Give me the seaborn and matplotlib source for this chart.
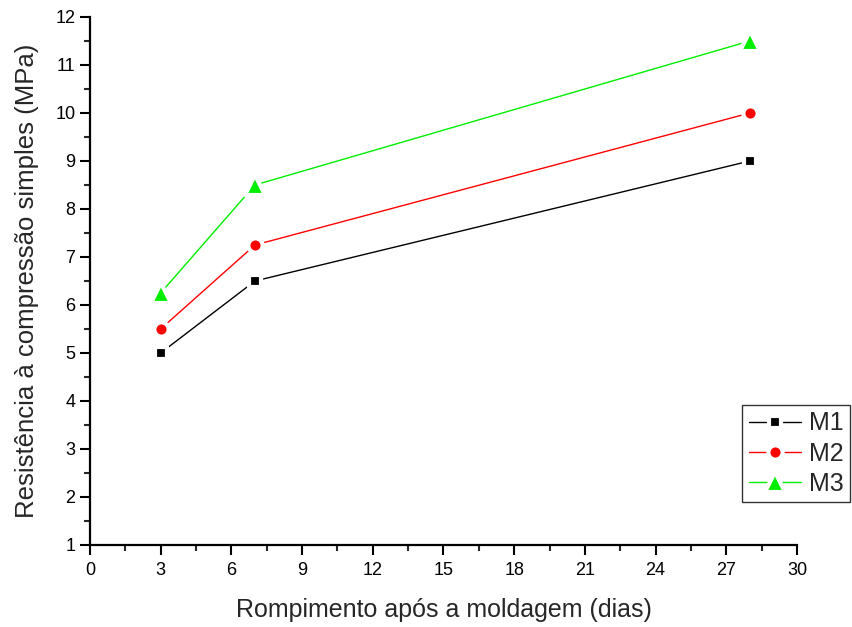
import matplotlib
matplotlib.use("Agg")
import matplotlib.pyplot as plt
import seaborn as sns
import pandas as pd
from matplotlib.ticker import MultipleLocator
from matplotlib.markers import MarkerStyle

days = [3, 7, 28]
m1 = [5.0, 6.5, 9.0]
m2 = [5.5, 7.25, 10.0]
m3 = [6.25, 8.5, 11.5]
series_names = ["M1", "M2", "M3"]

df = pd.DataFrame({
    "dias": days * 3,
    "valor": m1 + m2 + m3,
    "serie": [series_names[0]] * 3 + [series_names[1]] * 3 + [series_names[2]] * 3,
})

sns.set_style("ticks")
plt.rcParams["font.family"] = ["Liberation Sans", "DejaVu Sans"]

fig = plt.figure(figsize=(8.53, 6.27), dpi=100)
ax = fig.add_axes([0.1055, 0.1308, 0.8288, 0.8421])

palette = {"M1": "#000000", "M2": "#ff0000", "M3": "#00ee00"}
markers = {"M1": MarkerStyle("s", joinstyle="round"),
           "M2": MarkerStyle("o", joinstyle="round"),
           "M3": MarkerStyle("^", joinstyle="round")}
sizes_ms = {"M1": 9.3, "M2": 10.3, "M3": 14.8}

for name in series_names:
    sub = df[df["serie"] == name]
    sns.lineplot(data=sub, x="dias", y="valor", ax=ax, color=palette[name],
                 marker=markers[name], markersize=sizes_ms[name],
                 markeredgewidth=3, markeredgecolor="white",
                 linewidth=1.0, label=name)

ax.set_xlim(0, 30)
ax.set_ylim(1, 12)
ax.xaxis.set_major_locator(MultipleLocator(3))
ax.xaxis.set_minor_locator(MultipleLocator(1.5))
ax.yaxis.set_major_locator(MultipleLocator(1))
ax.yaxis.set_minor_locator(MultipleLocator(0.5))
sns.despine(ax=ax)
for s in ["left", "bottom"]:
    ax.spines[s].set_linewidth(1.6)
    ax.spines[s].set_color("black")
ax.tick_params(which="major", direction="out", length=7, width=1.5, labelsize=13, colors="black")
ax.tick_params(axis="x", which="major", pad=5)
ax.tick_params(which="minor", direction="out", length=4, width=1.5)

ax.set_xlabel("Rompimento após a moldagem (dias)", fontsize=18, labelpad=14)
ax.set_ylabel("Resistência à compressão simples (MPa)", fontsize=18.5, labelpad=12)

ax.get_legend().remove()
handles, labels = ax.get_legend_handles_labels()
leg = fig.legend(handles, labels, loc="upper right", bbox_to_anchor=(0.996, 0.354),
                 fontsize=18, frameon=True, fancybox=False, edgecolor="black",
                 handlelength=2.1, borderpad=0.25, labelspacing=0.25, handletextpad=0.3,
                 borderaxespad=0)
leg.get_frame().set_linewidth(1.0)

fig.savefig("out.png", dpi=100)
